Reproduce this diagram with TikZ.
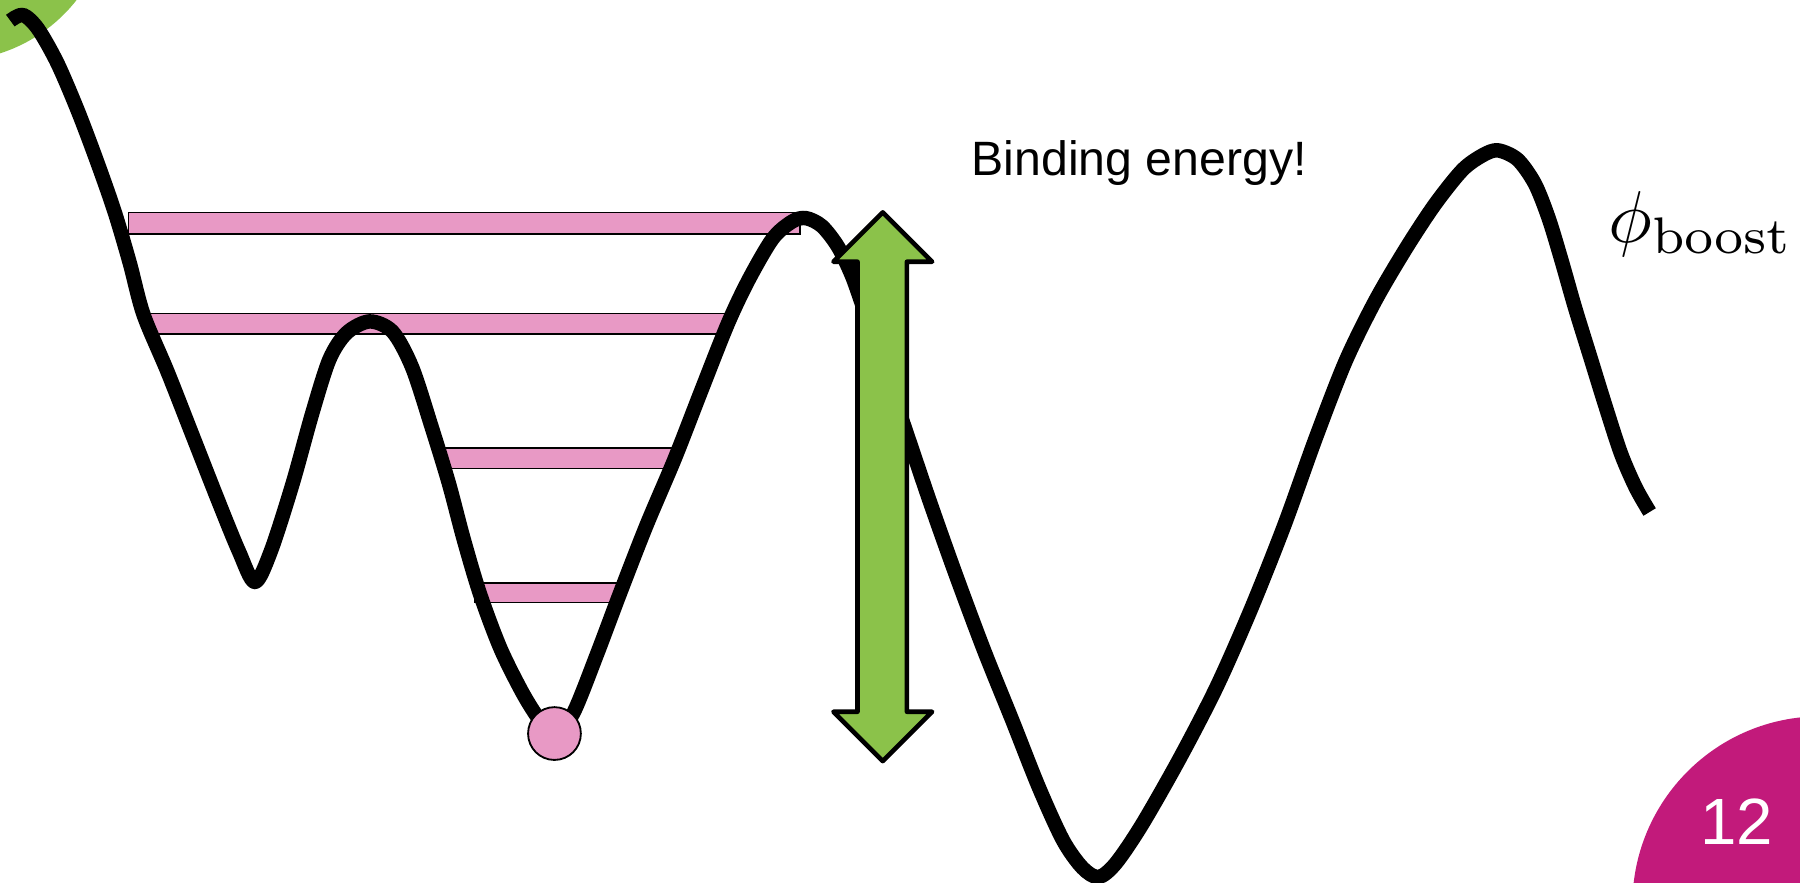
\documentclass[tikz,border=0pt]{standalone}
\usepackage{fontspec}
\newfontfamily\arialfont{Liberation Sans}
\definecolor{pinkfill}{RGB}{232,153,197}
\definecolor{greenfill}{RGB}{139,194,74}
\definecolor{slidemag}{RGB}{194,26,123}
\tikzset{
  band/.style={draw=black, line width=0.7pt, fill=pinkfill},
  potential/.style={draw=black, line width=6.3pt, line join=round},
  bigarrow/.style={draw=black, line width=2pt, line join=round, fill=greenfill},
  ballstyle/.style={draw=black, line width=0.8pt, fill=pinkfill},
}
\begin{document}
\begin{tikzpicture}[x=0.5pt,y=-0.5pt]
\useasboundingbox (0,0) rectangle (1568,769);
\begin{scope}
  \clip (0,0) rectangle (1568,769);
  \fill[greenfill] (-42,-85) circle[radius=69pt];
  \fill[slidemag] (1586,788) circle[radius=82pt];
\end{scope}
% energy levels
\draw[band] (112,185) rectangle (697,204);
\draw[band] (126,273) rectangle (634,291);
\draw[band] (386,390) rectangle (586,408);
\draw[band] (414,508) rectangle (541,525);
% potential curve
\draw[potential] plot[smooth, tension=0.5] coordinates {
 (9,18) (20,13) (33,25) (50,55) (68,97) (85,142) (100,185) (113,229) (125,274)
 (146,324) (168,380) (190,436) (208,480) (222,507) (236,480) (255,421) (272,360)
 (287,313) (302,290) (322,280) (342,289) (359,320) (376,372) (391,421) (404,470)
 (418,517) (436,565) (456,605) (472,630) (484,642) (500,620) (520,570) (540,517)
 (563,458) (588,399) (611,340) (634,282) (652,244) (673,208) (690,193) (702,190)
 (716,197) (730,215) (742,240) (752,268) (771,322) (790,378) (810,437) (832,499)
 (857,566) (882,628) (905,686) (926,732) (943,756) (957,764) (972,752) (995,718)
 (1028,660) (1060,598) (1090,530) (1119,457) (1146,382) (1172,315) (1198,262)
 (1225,216) (1250,178) (1274,148) (1292,135) (1305,131) (1322,139) (1337,160)
 (1349,190) (1360,226) (1372,268) (1385,310) (1398,352) (1412,395) (1425,425)
 (1437,446)};
% particle
\draw[ballstyle] (483,639) circle[radius=11.5pt];
\node[inner sep=0, minimum size=0pt] (ball) at (483,639) {};
% binding energy double arrow
\draw[bigarrow] (769,185) -- (812,228) -- (790,228) -- (790,620) -- (812,620)
  -- (769,663) -- (726,620) -- (747,620) -- (747,228) -- (726,228) -- cycle;
% texts
\node[anchor=base west, inner sep=0, font=\arialfont\fontsize{21}{25}\selectfont]
  (bind) at (846,153) {Binding energy!};
\node[anchor=base west, inner sep=0, scale=3.2, font=\fontsize{10}{12}\selectfont]
  (phi) at (1400,211.5) {$\phi_{\mathrm{boost}}$};
\node[anchor=base, inner sep=0, text=white, font=\arialfont\fontsize{28.5}{34}\selectfont]
  (num) at (1513,736) {12};
\end{tikzpicture}
\end{document}
